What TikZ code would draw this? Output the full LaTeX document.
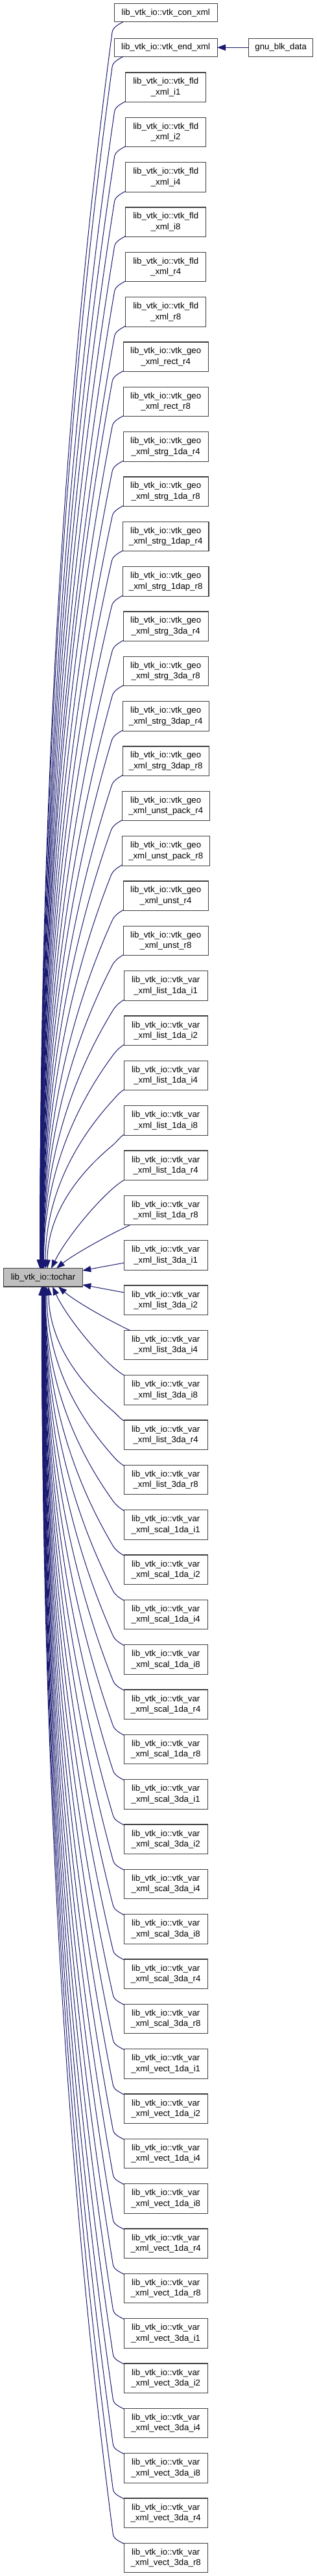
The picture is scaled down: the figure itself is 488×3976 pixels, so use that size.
\documentclass[tikz,border=0pt]{standalone}
\usepackage{fontspec}
\setmainfont{Liberation Sans}
\usetikzlibrary{arrows.meta,calc}
\definecolor{edgeblue}{RGB}{25,25,112}
\definecolor{boxline}{RGB}{64,64,64}
\definecolor{curfill}{RGB}{191,191,191}
\tikzset{
  fn/.style={draw=boxline, line width=1.1pt, fill=white, inner sep=0pt, outer sep=0pt,
    align=center, font=\fontsize{13.25}{16.5}\selectfont, minimum height=45.5pt},
  onefn/.style={fn, minimum height=28pt},
  edge/.style={draw=edgeblue, line width=1pt, -{Triangle[length=13pt,width=9.5pt]}},
}
\begin{document}
\begin{tikzpicture}[x=1pt,y=-1pt]
\useasboundingbox (0,0) rectangle (488,3976);
% nodes
\node[onefn, minimum width=158.7pt] (c0) at (255.7,19.7) {lib\_vtk\_io::vtk\_con\_xml};
\node[onefn, minimum width=158.7pt] (c1) at (255.7,73.3) {lib\_vtk\_io::vtk\_end\_xml};
\node[onefn, minimum width=99pt] (gnu) at (433.2,73.3) {gnu\_blk\_data};
\node[onefn, fill=curfill, minimum width=121.6pt, minimum height=28.3pt] (tochar) at (66.5,1971.85) {lib\_vtk\_io::tochar};
\foreach \k/\w/\a/\b in {
0/124.3/fld/i1, 1/124.3/fld/i2, 2/124.3/fld/i4, 3/124.3/fld/i8, 4/124.3/fld/r4, 5/124.3/fld/r8,
6/131/geo/rect\_r4, 7/131/geo/rect\_r8,
8/131/geo/strg\_1da\_r4, 9/131/geo/strg\_1da\_r8,
10/132.6/geo/strg\_1dap\_r4, 11/132.6/geo/strg\_1dap\_r8,
12/131/geo/strg\_3da\_r4, 13/131/geo/strg\_3da\_r8,
14/133/geo/strg\_3dap\_r4, 15/133/geo/strg\_3dap\_r8,
16/135/geo/unst\_pack\_r4, 17/135/geo/unst\_pack\_r8,
18/131/geo/unst\_r4, 19/131/geo/unst\_r8}
{\node[fn, minimum width=\w pt] (n\k) at (255.7,{134.75+69.333*\k}) {lib\_vtk\_io::vtk\_\a\\\_xml\_\b};}
\foreach \g [count=\gi from 0] in {list\_1da, list\_3da, scal\_1da, scal\_3da, vect\_1da, vect\_3da}
  \foreach \t [count=\ti from 0] in {i1,i2,i4,i8,r4,r8}
  {\pgfmathtruncatemacro\k{20+6*\gi+\ti}
   \node[fn, minimum width=128.7pt] (n\k) at (255.7,{134.75+69.333*\k}) {lib\_vtk\_io::vtk\_var\\\_xml\_\g\_\t};}
% edge gnu -> end_xml
\draw[edge] (gnu.west) -- (c1.east);
% edges from the two single-line nodes
\draw[edge] ($(c0.south west)+(13.7,0)$) .. controls +(-7,4) and +(1.06,-7.9) .. ++(-17,16)
  .. controls (89.4,679.3) and (61.5,1328.1) .. ([xshift=55.8pt]tochar.north west);
\draw[edge] ($(c1.south west)+(13.7,0)$) .. controls +(-7,4) and +(1.1,-7.9) .. ++(-17,16)
  .. controls (89.6,715.3) and (61.8,1345.7) .. ([xshift=56.1pt]tochar.north west);
% generic upper edges
\foreach \k/\w/\xe in {0/124.3/62, 1/124.3/62.25, 2/124.3/62.5, 3/124.3/62.75, 4/124.3/63, 5/124.3/63.25,
  6/131/63.5, 7/131/63.75, 8/131/64, 9/131/64.25, 10/132.6/64.5, 11/132.6/64.75, 12/131/65, 13/131/65.25,
  14/133/65.5, 15/133/65.75, 16/135/66, 17/135/66.25, 18/131/66.5, 19/131/66.75, 20/128.7/67,
  21/128.7/67.5, 22/128.7/70, 23/128.7/73}
{
  \pgfmathsetmacro\xs{255.7-\w/2}
  \pgfmathsetmacro\ys{134.75+69.333*\k+22.75-1}
  \pgfmathsetmacro\px{\xs-17}
  \pgfmathsetmacro\py{\ys+16}
  \pgfmathsetmacro\dx{\xe-\px}
  \pgfmathsetmacro\dd{1957.7-\py}
  \pgfmathsetmacro\cax{\px+0.75*\dx}
  \pgfmathsetmacro\cay{\py+0.33*\dd}
  \pgfmathsetmacro\cby{\py+0.67*\dd}
  \pgfmathsetmacro\ux{0.0075*\dx}
  \pgfmathsetmacro\uy{0.0033*\dd}
  \pgfmathsetmacro\ul{sqrt(\ux*\ux+\uy*\uy)}
  \pgfmathsetmacro\bx{-8*\ux/\ul}
  \pgfmathsetmacro\by{-8*\uy/\ul}
  \pgfmathsetmacro\off{\xe-5.7}
  \draw[edge] ($(n\k.south west)+(0,-1)$) .. controls +(-7,4) and +(\bx,\by) .. ++(-17,16)
    .. controls (\cax,\cay) and (\xe,\cby) .. ([xshift=\off pt]tochar.north west);
}
% generic lower edges
\foreach \k in {30,...,55}
{
  \ifnum\k=30 \def\xe{75}\else\ifnum\k=31 \def\xe{72}\else
    \pgfmathsetmacro\xe{70-0.25*(\k-32)}\fi\fi
  \pgfmathsetmacro\xs{255.7-128.7/2}
  \pgfmathsetmacro\ys{112+69.333*\k+1}
  \pgfmathsetmacro\px{\xs-17}
  \pgfmathsetmacro\py{\ys-15}
  \pgfmathsetmacro\dx{\xe-\px}
  \pgfmathsetmacro\dd{\py-1986}
  \pgfmathsetmacro\cax{\px+0.75*\dx}
  \pgfmathsetmacro\cay{\py-0.33*\dd}
  \pgfmathsetmacro\cby{\py-0.67*\dd}
  \pgfmathsetmacro\ux{0.0075*\dx}
  \pgfmathsetmacro\uy{-0.0033*\dd}
  \pgfmathsetmacro\ul{sqrt(\ux*\ux+\uy*\uy)}
  \pgfmathsetmacro\bx{-8*\ux/\ul}
  \pgfmathsetmacro\by{-8*\uy/\ul}
  \pgfmathsetmacro\off{\xe-5.7}
  \draw[edge] ($(n\k.north west)+(0,1)$) .. controls +(-7,-4) and +(\bx,\by) .. ++(-17,-15)
    .. controls (\cax,\cay) and (\xe,\cby) .. ([xshift=\off pt]tochar.south west);
}
% special near edges
\draw[edge] (n24.south west) .. controls (165,1836) and (105,1905) .. ([xshift=73.3pt]tochar.north west);
\draw[edge] ($(n25.south west)+(9,0)$) .. controls (170,1905) and (115,1935) .. ([xshift=81.3pt]tochar.north west);
\draw[edge] ($(n26.south west)+(0,-11)$) -- ([yshift=-3.3pt]tochar.north east);
\draw[edge] ($(n27.north west)+(0,11)$) -- ([yshift=3pt]tochar.south east);
\draw[edge] ($(n28.north west)+(9,0)$) .. controls (170,2039) and (118,2010) .. ([xshift=84.3pt]tochar.south west);
\draw[edge] (n29.north west) .. controls (165,2108) and (105,2038) .. ([xshift=75.3pt]tochar.south west);
\end{tikzpicture}
\end{document}
